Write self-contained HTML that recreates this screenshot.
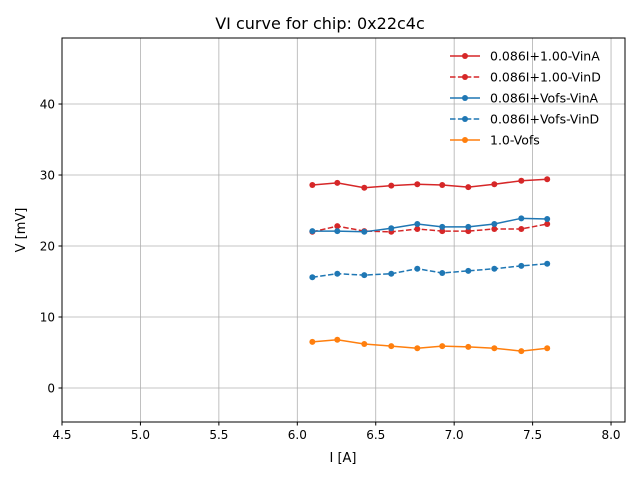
<!DOCTYPE html>
<html><head><meta charset="utf-8"><style>
body{margin:0;background:#fff;font-family:"Liberation Sans","DejaVu Sans",sans-serif;}
svg text{font-family:"DejaVu Sans","Liberation Sans",sans-serif;}
</style></head><body>
<svg id="chart" width="640" height="480" xmlns="http://www.w3.org/2000/svg">
<rect width="640" height="480" fill="#fff"/>
<g id="grid"></g>
<g id="series"></g>
<rect x="62" y="38" width="563" height="384" fill="none" stroke="#000" stroke-width="1"/>
<g id="ticks"></g>
<text x="320" y="29" text-anchor="middle" font-size="16">VI curve for chip: 0x22c4c</text>
<text x="343" y="462" text-anchor="middle" font-size="13">I [A]</text>
<text x="25" y="230" text-anchor="middle" font-size="13" transform="rotate(-90 25 230)">V [mV]</text>
<g id="legend"></g>
</svg>
<script>
const currents=[6.096,6.255,6.427,6.599,6.765,6.924,7.09,7.256,7.428,7.593];
const vinA=[28.6,28.9,28.2,28.5,28.7,28.6,28.3,28.7,29.2,29.4];
const vinD=[22.0,22.8,22.1,22.0,22.4,22.1,22.1,22.4,22.4,23.1];
const vofsVinA=[22.1,22.1,22.0,22.5,23.1,22.7,22.7,23.1,23.9,23.8];
const vofsVinD=[15.6,16.1,15.9,16.1,16.8,16.2,16.5,16.8,17.2,17.5];
const vofs=[6.5,6.8,6.2,5.9,5.6,5.9,5.8,5.6,5.2,5.6];
const xTicks=[4.5,5.0,5.5,6.0,6.5,7.0,7.5,8.0];
const yTicks=[0,10,20,30,40];
const seriesNames=["0.086I+1.00-VinA","0.086I+1.00-VinD","0.086I+Vofs-VinA","0.086I+Vofs-VinD","1.0-Vofs"];
const NS="http://www.w3.org/2000/svg";
const X0=62,X1=625,Y0=38,Y1=422,xmin=4.5,xmax=8.089,ymin=-4.79,ymax=49.3;
function sx(v){return X0+(v-xmin)/(xmax-xmin)*(X1-X0);}
function sy(v){return Y1-(v-ymin)/(ymax-ymin)*(Y1-Y0);}
function mk(tag,attrs,parent){const e=document.createElementNS(NS,tag);for(const k in attrs)e.setAttribute(k,attrs[k]);parent.appendChild(e);return e;}
const grid=document.getElementById('grid'),ticks=document.getElementById('ticks');
xTicks.forEach(t=>{const x=sx(t);
 const g=mk('line',{x1:x,x2:x,y1:Y0,y2:Y1,stroke:'#b0b0b0','stroke-width':0.8},grid);
 
 
 mk('line',{x1:x,x2:x,y1:Y1,y2:Y1+3.5,stroke:'#000'},ticks);
 const tx=mk('text',{x:x,y:Y1+17,'text-anchor':'middle','font-size':12},ticks);tx.textContent=t.toFixed(1);
 
 
});
yTicks.forEach(t=>{const y=sy(t);
 const g=mk('line',{x1:X0,x2:X1,y1:y,y2:y,stroke:'#b0b0b0','stroke-width':0.8},grid);
 
 
 mk('line',{x1:X0-3.5,x2:X0,y1:y,y2:y,stroke:'#000'},ticks);
 const tx=mk('text',{x:X0-7,y:y+4.5,'text-anchor':'end','font-size':12},ticks);tx.textContent=t;
 
 
});
const defs=[[vinA,'#d62728',false],[vinD,'#d62728',true],[vofsVinA,'#1f77b4',false],[vofsVinD,'#1f77b4',true],[vofs,'#ff7f0e',false]];
const sg=document.getElementById('series'),lg=document.getElementById('legend');
defs.forEach((d,i)=>{
 const g=mk('g',{},sg);
 
 
 const pts=d[0].map((v,j)=>sx(currents[j])+','+sy(v)).join(' ');
 const a={points:pts,fill:'none',stroke:d[1],'stroke-width':1.5};if(d[2])a['stroke-dasharray']='5.5,2.4';
 mk('polyline',a,g);
 d[0].forEach((v,j)=>{const c=mk('circle',{cx:sx(currents[j]),cy:sy(v),r:3,fill:d[1]},g);
  
  });
 const y=56+i*21;
 const le=mk('g',{},lg);
 
 
 const la={x1:450,x2:480,y1:y,y2:y,stroke:d[1],'stroke-width':1.5};if(d[2])la['stroke-dasharray']='5.5,2.4';
 mk('line',la,le);mk('circle',{cx:465,cy:y,r:3,fill:d[1]},le);
 const t=mk('text',{x:490,y:y+4.5,'font-size':12.5},le);t.textContent=seriesNames[i];
});
</script>
</body></html>
